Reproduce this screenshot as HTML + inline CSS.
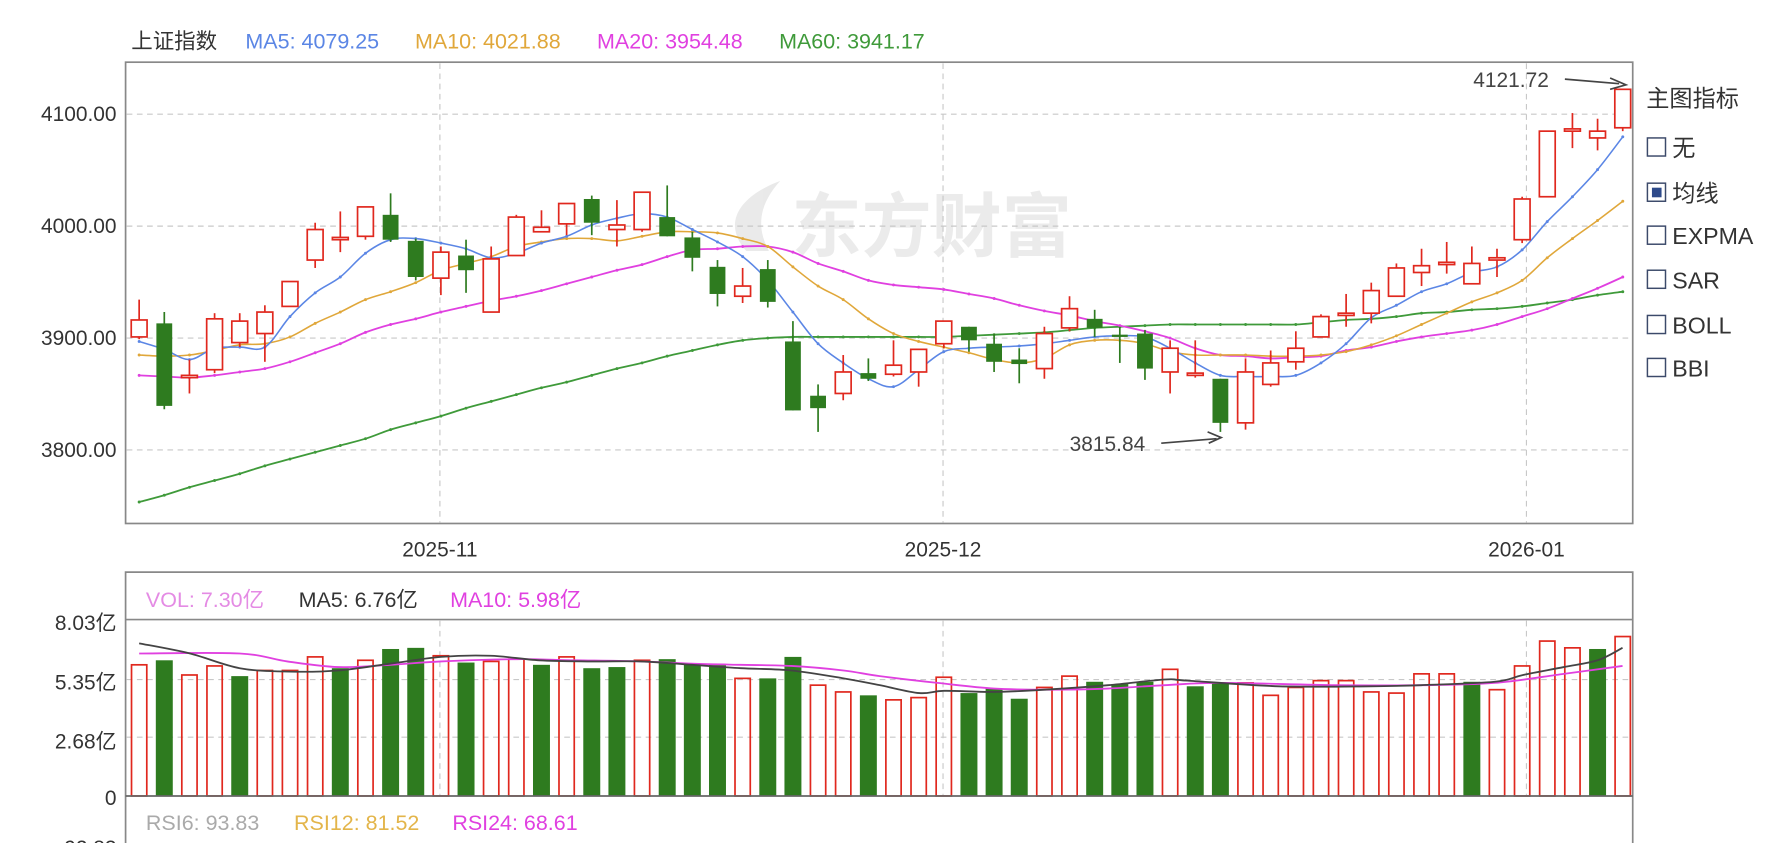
<!DOCTYPE html>
<html><head><meta charset="utf-8">
<style>
html,body{margin:0;padding:0;background:#fff;overflow:hidden}
svg{display:block}
text{font-family:"Liberation Sans","Noto Sans CJK SC",sans-serif}
</style></head>
<body>
<svg id="s" width="1773" height="843" viewBox="0 0 1568 745.6" xmlns="http://www.w3.org/2000/svg">
<rect x="0" y="0" width="1568" height="745.6" fill="#fff"/>
<g opacity="0.55">
<path d="M660 222 C640 200 650 175 690 160 C672 180 668 200 680 222 Z" fill="#d8d8d8"/>
<text x="700" y="222" font-size="62" font-weight="bold" fill="#dcdcdc" font-family="'Noto Sans CJK SC',sans-serif">东方财富</text>
</g>
<g font-size="19">
<text x="116" y="43" fill="#333">上证指数</text>
<text x="217" y="43" fill="#5b86e5">MA5: 4079.25</text>
<text x="367" y="43" fill="#e0a73a">MA10: 4021.88</text>
<text x="528" y="43" fill="#e040e0">MA20: 3954.48</text>
<text x="689" y="43" fill="#3f9a3a">MA60: 3941.17</text>
</g>
<g id="grid" stroke="#c8c8c8" stroke-dasharray="5,4" stroke-width="1"></g>
<g id="main"></g>
<rect x="111" y="55" width="1333" height="408" fill="none" stroke="#888" stroke-width="1.5"/>
<g font-size="18.5" fill="#333" text-anchor="end">
<text x="103" y="107">4100.00</text>
<text x="103" y="206">4000.00</text>
<text x="103" y="305">3900.00</text>
<text x="103" y="404">3800.00</text>
</g>
<g font-size="18.5" fill="#333" text-anchor="middle">
<text x="389" y="492">2025-11</text>
<text x="834" y="492">2025-12</text>
<text x="1350" y="492">2026-01</text>
</g>
<g font-size="18.5" fill="#444">
<text x="1303" y="77">4121.72</text>
<line x1="1384" y1="70" x2="1432" y2="74" stroke="#444" stroke-width="1.5"/>
<path d="M1424 69 L1438 75 L1424 79" fill="none" stroke="#444" stroke-width="1.5"/>
<text x="946" y="399">3815.84</text>
<line x1="1027" y1="392" x2="1076" y2="388" stroke="#444" stroke-width="1.5"/>
<path d="M1068 382 L1080 387 L1069 392" fill="none" stroke="#444" stroke-width="1.5"/>
</g>
<g font-size="20.5" fill="#333">
<text x="1456" y="94" font-family="'Noto Sans CJK SC',sans-serif">主图指标</text>
<g fill="none" stroke="#3c4a6a" stroke-width="1.3">
<rect x="1457" y="122" width="16" height="16"/>
<rect x="1457" y="162" width="16" height="16"/>
<rect x="1457" y="200" width="16" height="16"/>
<rect x="1457" y="239" width="16" height="16"/>
<rect x="1457" y="279" width="16" height="16"/>
<rect x="1457" y="317" width="16" height="16"/>
</g>
<rect x="1461" y="166" width="8.5" height="8.5" fill="#2e4a8a"/>
<text x="1479" y="138" font-family="'Noto Sans CJK SC',sans-serif">无</text>
<text x="1479" y="178" font-family="'Noto Sans CJK SC',sans-serif">均线</text>
<text x="1479" y="216" font-family="'Liberation Serif',serif">EXPMA</text>
<text x="1479" y="255" font-family="'Liberation Serif',serif">SAR</text>
<text x="1479" y="295" font-family="'Liberation Serif',serif">BOLL</text>
<text x="1479" y="333" font-family="'Liberation Serif',serif">BBI</text>
</g>
<g id="vgrid" stroke="#c8c8c8" stroke-dasharray="5,4" stroke-width="1"></g>
<g id="vol"></g>
<path d="M111 745.6 L111 506 L1444 506 L1444 745.6" fill="none" stroke="#888" stroke-width="1.5"/>
<line x1="111" y1="548" x2="1444" y2="548" stroke="#888" stroke-width="1.5"/>
<line x1="111" y1="704" x2="1444" y2="704" stroke="#666" stroke-width="1.5"/>
<g font-size="19">
<text x="129" y="537" fill="#e48be4">VOL: 7.30亿</text>
<text x="264" y="537" fill="#333">MA5: 6.76亿</text>
<text x="398" y="537" fill="#e040e0">MA10: 5.98亿</text>
<text x="129" y="734" fill="#aaa">RSI6: 93.83</text>
<text x="260" y="734" fill="#e3b54a">RSI12: 81.52</text>
<text x="400" y="734" fill="#e040e0">RSI24: 68.61</text>
</g>
<g font-size="18.5" fill="#333" text-anchor="end">
<text x="103" y="557">8.03亿</text>
<text x="103" y="610">5.35亿</text>
<text x="103" y="662">2.68亿</text>
<text x="103" y="712">0</text>
<text x="103" y="756">92.83</text>
</g>
</svg>
<script>
(function(){
var NS="http://www.w3.org/2000/svg";
function el(p,t,a){var e=document.createElementNS(NS,t);for(var k in a)e.setAttribute(k,a[k]);p.appendChild(e);return e;}
var g=document.getElementById('grid'),m=document.getElementById('main'),vg=document.getElementById('vgrid'),v=document.getElementById('vol');
[101,200,299,398].forEach(function(y){el(g,'line',{x1:112,x2:1443,y1:y,y2:y});});
[389,834,1350].forEach(function(x){el(g,'line',{x1:x,x2:x,y1:56,y2:462});el(vg,'line',{x1:x,x2:x,y1:549,y2:703});});
[601,652].forEach(function(y){el(vg,'line',{x1:112,x2:1443,y1:y,y2:y});});
function X(i){return 123+22.24*i;}
var C=[[283,298,265,300,'r'],[286,359,276,362,'g'],[332,334,318,348,'r'],[282,327,277,330,'r'],[284,303,277,307,'r'],[276,295,270,320,'r'],[249,271,249,271,'r'],[203,230,197,237,'r'],[210,212,187,223,'r'],[183,209,183,212,'r'],[190,212,171,214,'g'],[213,245,211,248,'g'],[223,246,218,261,'r'],[226,239,212,259,'g'],[229,276,218,276,'r'],[192,226,190,226,'r'],[201,205,186,205,'r'],[180,198,180,208,'r'],[176,197,173,208,'g'],[199,203,177,218,'r'],[170,203,170,205,'r'],[192,209,164,209,'g'],[210,228,205,240,'g'],[236,260,230,271,'g'],[253,262,237,268,'r'],[238,267,230,272,'g'],[302,363,284,363,'g'],[350,361,340,382,'g'],[329,348,314,354,'r'],[330,335,317,337,'g'],[323,331,301,333,'r'],[309,329,309,342,'r'],[284,304,284,308,'r'],[289,301,289,311,'g'],[304,320,295,329,'g'],[318,322,308,339,'g'],[295,326,289,335,'r'],[273,290,262,293,'r'],[282,290,274,298,'g'],[296,298,289,321,'g'],[295,326,292,336,'g'],[308,329,301,348,'r'],[330,332,301,334,'r'],[335,374,335,382,'g'],[329,374,317,380,'r'],[321,340,310,342,'r'],[308,320,293,327,'r'],[280,298,278,298,'r'],[277,279,260,289,'r'],[257,277,250,286,'r'],[237,262,233,262,'r'],[235,241,220,253,'r'],[232,234,214,242,'r'],[233,251,218,251,'r'],[228,230,220,245,'r'],[176,212,174,215,'r'],[116,174,116,174,'r'],[114,116,100,131,'r'],[116,122,105,133,'r'],[79,113,79,116,'r']];
var RED="#e0281e",GRN="#2e7b1f";
function smooth(pts){var d="M"+pts[0][0]+" "+pts[0][1];for(var i=0;i<pts.length-1;i++){var p0=pts[i-1]||pts[i],p1=pts[i],p2=pts[i+1],p3=pts[i+2]||p2;d+=" C"+(p1[0]+(p2[0]-p0[0])/6).toFixed(1)+" "+(p1[1]+(p2[1]-p0[1])/6).toFixed(1)+" "+(p2[0]-(p3[0]-p1[0])/6).toFixed(1)+" "+(p2[1]-(p3[1]-p1[1])/6).toFixed(1)+" "+p2[0]+" "+p2[1];}return d;}
function line(par,arr,col,w){var pts=arr.map(function(y,i){return [+X(i).toFixed(1),y];});el(par,'path',{d:smooth(pts),fill:'none',stroke:col,'stroke-width':w});pts.forEach(function(p){el(par,'circle',{cx:p[0],cy:p[1],r:1.3,fill:col});});}
var MA5=[302,309,318,308,307,307,280,259,245,224,212,211,215,220,228,224,215,209,199,193,189,192,203,214,227,248,276,304,321,335,342,327,311,308,307,306,304,301,298,297,298,308,321,332,333,333,332,321,304,281,270,258,251,241,236,221,196,174,150,121];
var MA10=[314,315,314,310,305,304,298,286,276,265,258,250,239,233,227,218,214,211,211,213,209,205,205,206,211,218,236,253,265,282,295,302,307,312,318,321,317,305,301,301,304,311,314,314,314,315,315,314,311,305,297,287,277,267,259,248,228,211,195,178];
var MA20=[332,333,334,332,329,326,320,312,304,294,287,282,276,271,266,262,257,251,245,239,234,227,221,220,218,218,223,233,240,248,252,254,256,260,264,270,275,279,284,288,293,299,308,314,315,317,316,315,310,307,302,298,295,292,287,280,273,264,255,245];
var MA60=[444,438,431,425,419,412,406,400,394,388,380,374,368,361,355,349,343,338,332,326,321,315,310,305,301,299,298,298,298,298,298,298,298,297,296,295,294,292,290,289,288,287,287,287,287,287,287,285,283,282,280,277,276,274,273,271,268,265,261,258];
line(m,MA60,"#3f9a3a",1.6);line(m,MA20,"#e040e0",1.6);line(m,MA10,"#e0a73a",1.4);line(m,MA5,"#5b86e5",1.4);
C.forEach(function(c,i){var x=X(i),col=c[4]=='r'?RED:GRN,w=14;
 el(m,'line',{x1:x,x2:x,y1:c[2],y2:c[3],stroke:col,'stroke-width':1.5});
 var h=Math.max(c[1]-c[0],2);
 if(c[4]=='r'){el(m,'rect',{x:x-w/2,y:c[0],width:w,height:h,fill:'#fff',stroke:col,'stroke-width':1.5});}
 else{el(m,'rect',{x:x-w/2,y:c[0],width:w,height:h,fill:col});}
});
var V=[588,584,597,589,598,593,593,581,591,584,574,573,580,586,585,583,588,581,591,590,584,583,588,588,600,600,581,606,612,615,619,617,599,613,609,618,608,598,603,605,603,592,607,604,604,615,608,602,602,612,613,596,596,603,610,589,567,573,574,563];
var VC="rgrrgrrrgrggrgrrgrggrgggrggrrgrrrgggrrgggrggrrrrrrrrrgrrrrgr";
V.forEach(function(y,i){var x=X(i),w=15,col=VC[i]=='r'?RED:GRN;
 if(VC[i]=='r')el(v,'rect',{x:x-w/2+0.75,y:y,width:w-1.5,height:704-y,fill:'none',stroke:col,'stroke-width':1.5});
 else el(v,'rect',{x:x-w/2,y:y,width:w,height:704-y,fill:col});
});
function pl(par,pts,col){el(par,'path',{d:smooth(pts),fill:'none',stroke:col,'stroke-width':1.6});}
pl(v,[[123,578],[212,578],[254,585],[299,590],[345,588],[390,585],[457,583],[508,584],[567,585],[612,587],[655,588],[700,589],[746,593],[778,598],[829,604],[879,609],[929,610],[980,609],[1030,606],[1081,604],[1181,606],[1257,606],[1322,604],[1383,596],[1435,589]],"#e040e0");
pl(v,[[123,569],[168,578],[212,591],[256,594],[299,593],[345,587],[390,581],[434,580],[477,584],[523,585],[567,585],[612,588],[655,591],[700,593],[746,600],[778,606],[813,613],[835,611],[879,612],[924,610],[980,606],[1030,601],[1050,602],[1131,607],[1211,607],[1257,606],[1322,603],[1347,597],[1383,590],[1413,584],[1435,573]],"#444");
})();
</script>
</body></html>
